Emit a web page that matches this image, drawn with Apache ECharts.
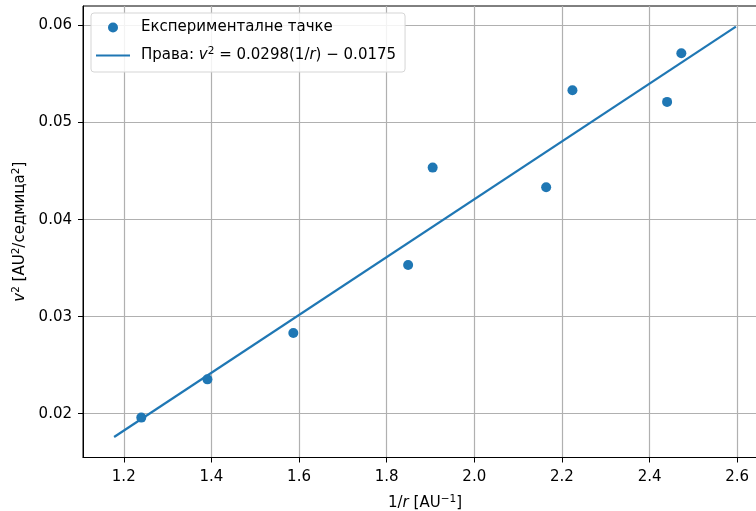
<!DOCTYPE html>
<html>
<head>
<meta charset="utf-8">
<script src="https://cdn.jsdelivr.net/npm/echarts@6/dist/echarts.min.js"></script>
<style>
  html, body { margin: 0; padding: 0; background: #fff; overflow: hidden; }
  /* the plot's right edge lies past the 756px frame, as in the source picture */
  #chart { width: 767px; height: 511px; }
</style>
</head>
<body>
<div id="chart"></div>
<script>
// measured points: 1/r [AU^-1] and v^2 [AU^2/week^2]
const invR = [1.240, 1.391, 1.587, 1.849, 1.905, 2.164, 2.224, 2.440, 2.4725];
const vSq = [0.0196, 0.02354, 0.02832, 0.03533, 0.04536, 0.04333, 0.05333, 0.05213, 0.05714];

// fit from the legend, drawn over this x span
const slope = 0.0298;
const intercept = -0.0175;
const fitX = [1.178, 2.597];

const xTicks = [1.2, 1.4, 1.6, 1.8, 2.0, 2.2, 2.4, 2.6];
const yTicks = [0.02, 0.03, 0.04, 0.05, 0.06];

const blue = "#1f77b4";
const font = "DejaVu Sans";
const fs = 15;

const points = invR.map((x, i) => [x, vSq[i]]);
const fitLine = fitX.map((x) => [x, slope * x + intercept]);

const sup = { fontSize: 10.5, padding: [0, 0, 8, 0], fontFamily: font, color: "#000" };
const it = { fontStyle: "italic", fontFamily: font, color: "#000", fontSize: fs };
const txt = { fontFamily: font, color: "#000", fontSize: fs };

const chart = echarts.init(document.getElementById("chart"));

chart.setOption({
  animation: false,
  grid: {
    left: 83,
    top: 6,
    right: 0,
    bottom: 53.5,
    outerBoundsMode: "none",
    show: true,
    borderColor: "#000",
    borderWidth: 1,
  },
  legend: {
    orient: "vertical",
    left: 91,
    top: 13,
    padding: [7, 9, 9, 5],
    itemGap: 11,
    itemWidth: 34,
    itemHeight: 10,
    borderColor: "#d5d5d5",
    borderWidth: 1,
    borderRadius: 3,
    backgroundColor: "rgba(255,255,255,0.85)",
    data: [
      { name: "Експерименталне тачке", icon: "circle" },
      { name: "Права", icon: "path://M0,0 L34,0 L34,2.2 L0,2.2 Z" },
    ],
    formatter: (name) => {
      if (name === "Права") {
        return "{t|Права: }{i|v}{s|2}{t| = 0.0298(1/}{i|r}{t|) − 0.0175}";
      }
      return "{t|" + name + "}";
    },
    textStyle: {
      fontFamily: font,
      fontSize: fs,
      color: "#000",
      padding: [0, 0, 0, 6],
      rich: { t: txt, i: it, s: sup },
    },
  },
  xAxis: {
    type: "value",
    min: 1.107,
    max: 2.668,
    name: "1/{i|r} [AU{s|−1}]",
    nameLocation: "middle",
    nameGap: 36,
    nameTextStyle: { fontFamily: font, fontSize: fs, color: "#000", rich: { t: txt, i: it, s: sup } },
    axisLine: { onZero: false, lineStyle: { color: "#000", width: 1 } },
    axisTick: { show: true, length: 5, lineStyle: { color: "#000" }, customValues: xTicks },
    axisLabel: {
      customValues: xTicks,
      formatter: (v) => v.toFixed(1),
      fontFamily: font,
      fontSize: fs,
      color: "#000",
      margin: 12,
    },
    splitLine: { show: true, lineStyle: { color: "#b0b0b0", width: 1.2 } },
  },
  yAxis: {
    type: "value",
    min: 0.01549,
    max: 0.06201,
    name: "{i|v}{s|2} [AU{s|2}/седмица{s|2}]",
    nameLocation: "middle",
    nameGap: 53,
    nameTextStyle: { fontFamily: font, fontSize: fs, color: "#000", rich: { t: txt, i: it, s: sup } },
    axisLine: { show: true, onZero: false, lineStyle: { color: "#000", width: 1 } },
    axisTick: { show: true, length: 5, lineStyle: { color: "#000" }, customValues: yTicks },
    axisLabel: {
      customValues: yTicks,
      formatter: (v) => v.toFixed(2),
      fontFamily: font,
      fontSize: fs,
      color: "#000",
      margin: 11,
    },
    splitLine: { show: true, lineStyle: { color: "#b0b0b0", width: 1.2 } },
  },
  series: [
    {
      name: "Експерименталне тачке",
      type: "scatter",
      data: points,
      symbolSize: 10,
      itemStyle: { color: blue, opacity: 1 },
      z: 3,
    },
    {
      name: "Права",
      type: "line",
      data: fitLine,
      symbol: "none",
      lineStyle: { color: blue, width: 2.2 },
      itemStyle: { color: blue },
      z: 2,
    },
  ],
});
</script>
</body>
</html>
